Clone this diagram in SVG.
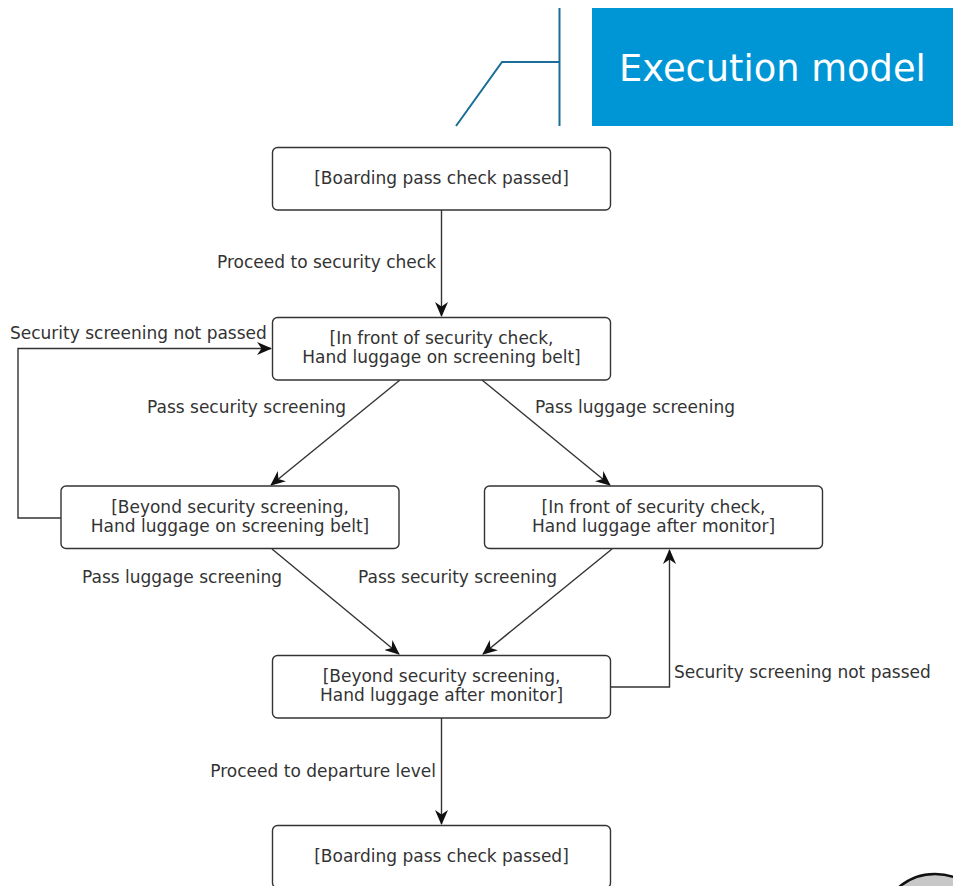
<svg xmlns="http://www.w3.org/2000/svg" width="953" height="886" viewBox="0 0 953 886">
  <style>
    .node rect { fill: #ffffff; stroke: #333333; stroke-width: 1.4; }
    .node text { font-family: "DejaVu Sans", Verdana, sans-serif; font-size: 17px; fill: #333333; text-anchor: middle; }
    .edge { fill: none; stroke: #333333; stroke-width: 1.4; marker-end: url(#arrow); }
    .lbl { font-family: "DejaVu Sans", Verdana, sans-serif; font-size: 17px; fill: #333333; }
    .frame { fill: none; stroke: #1a6d96; stroke-width: 2; }
  </style>
  <defs>
    <marker id="arrow" viewBox="0 0 15 13" refX="14" refY="6.5" markerWidth="15" markerHeight="13" markerUnits="userSpaceOnUse" orient="auto">
      <path d="M0,0 L15,6.5 L0,13 L4.5,6.5 Z" fill="#111111"/>
    </marker>
  </defs>

  <!-- title banner -->
  <g id="title">
    <rect x="592" y="8" width="361" height="118" fill="#0096d6"/>
    <text x="619" y="81" font-family="DejaVu Sans, Verdana, sans-serif" font-size="36.8" fill="#ffffff">Execution model</text>
    <path class="frame" d="M559.5,8 V126 M559.5,62 H502 L456,126"/>
  </g>

  <!-- connectors -->
  <g id="connectors">
    <path class="edge" d="M441.5,210 V316"/>
    <path class="edge" d="M61,518 H18 V348.5 H271"/>
    <path class="edge" d="M400,380 L271,485"/>
    <path class="edge" d="M482,380 L610,485"/>
    <path class="edge" d="M272,549 L399,654"/>
    <path class="edge" d="M612,549 L483,654"/>
    <path class="edge" d="M611,687 H669.5 V550"/>
    <path class="edge" d="M441.5,718 V824"/>
  </g>

  <!-- connector labels -->
  <g id="labels">
    <text class="lbl" x="436" y="268" text-anchor="end">Proceed to security check</text>
    <text class="lbl" x="10" y="339">Security screening not passed</text>
    <text class="lbl" x="147" y="413">Pass security screening</text>
    <text class="lbl" x="535" y="413">Pass luggage screening</text>
    <text class="lbl" x="82" y="583">Pass luggage screening</text>
    <text class="lbl" x="358" y="583">Pass security screening</text>
    <text class="lbl" x="674" y="678">Security screening not passed</text>
    <text class="lbl" x="436" y="777" text-anchor="end">Proceed to departure level</text>
  </g>

  <!-- states -->
  <g id="n1" class="node">
    <rect x="272.5" y="147.5" width="338" height="62.5" rx="5"/>
    <text x="441.5" y="184">[Boarding pass check passed]</text>
  </g>
  <g id="n2" class="node">
    <rect x="272.5" y="317.5" width="338" height="62.5" rx="5"/>
    <text x="441.5" y="344">[In front of security check,</text>
    <text x="441.5" y="363">Hand luggage on screening belt]</text>
  </g>
  <g id="n3" class="node">
    <rect x="61" y="486" width="338" height="62.5" rx="5"/>
    <text x="230" y="513">[Beyond security screening,</text>
    <text x="230" y="532">Hand luggage on screening belt]</text>
  </g>
  <g id="n4" class="node">
    <rect x="484.5" y="486" width="338" height="62.5" rx="5"/>
    <text x="653.5" y="513">[In front of security check,</text>
    <text x="653.5" y="532">Hand luggage after monitor]</text>
  </g>
  <g id="n5" class="node">
    <rect x="272.5" y="655.5" width="338" height="62.5" rx="5"/>
    <text x="441.5" y="682">[Beyond security screening,</text>
    <text x="441.5" y="701">Hand luggage after monitor]</text>
  </g>
  <g id="n6" class="node">
    <rect x="272.5" y="825.5" width="338" height="62.5" rx="5"/>
    <text x="441.5" y="862">[Boarding pass check passed]</text>
  </g>

  <!-- partial badge in the lower right corner -->
  <g id="badge">
    <circle cx="935" cy="930" r="56" fill="#c8c8c8" stroke="#111111" stroke-width="2.5"/>
  </g>
</svg>
